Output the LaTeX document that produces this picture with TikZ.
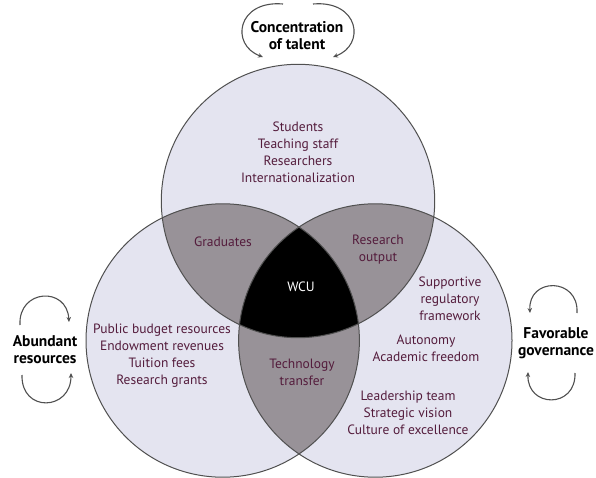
\documentclass[tikz,border=0pt]{standalone}
\usepackage{fontspec}
\setmainfont{PT Sans}
\usetikzlibrary{arrows.meta}
\definecolor{ring}{RGB}{228,228,240}
\definecolor{lens}{RGB}{152,146,152}
\definecolor{ink}{RGB}{84,28,60}
\definecolor{edge}{RGB}{80,80,80}
\begin{document}
\begin{tikzpicture}[x=1pt, y=-1pt, font=\fontsize{13.5}{17}\selectfont,
  item/.style={align=center, text=ink, inner sep=0pt},
  factor/.style={align=center, inner sep=0pt, font=\fontsize{15.5}{17}\selectfont\bfseries},
  loop arrow/.style={draw=edge, line width=1.1pt, -{Stealth[length=5pt, width=4.5pt]}}]
  \useasboundingbox (0,0) rectangle (596,478);
  \coordinate (T) at (298,201);
  \coordinate (L) at (222.7,340.5);
  \coordinate (R) at (375.3,340.5);
  \foreach \c in {T, L, R} \fill[ring] (\c) circle (136.7pt);
  \foreach \a/\b in {T/L, T/R, L/R} {
    \begin{scope}
      \clip (\a) circle (136.7pt);
      \fill[lens] (\b) circle (136.7pt);
    \end{scope}
  }
  \begin{scope}
    \clip (T) circle (136.7pt);
    \clip (L) circle (136.7pt);
    \fill (R) circle (136.7pt);
  \end{scope}
  \foreach \c in {T, L, R} \draw[edge, line width=1pt] (\c) circle (136.7pt);

  \node[item] (talent) at (298,152) {Students\\Teaching staff\\Researchers\\Internationalization};
  \node[item] (grad) at (223,242) {Graduates};
  \node[item] (output) at (378,250) {Research\\output};
  \node[text=white] (wcu) at (301,287) {WCU};
  \node[item] (tech) at (302,372) {Technology\\transfer};
  \node[item] (money) at (162,356) {Public budget resources\\Endowment revenues\\Tuition fees\\Research grants};
  \node[item] (rules) at (450,299) {Supportive\\regulatory\\framework};
  \node[item] (auto) at (426,348) {Autonomy\\Academic freedom};
  \node[item] (lead) at (408,413) {Leadership team\\Strategic vision\\Culture of excellence};

  \node[factor] (conc) at (297,36) {Concentration\\of talent};
  \node[factor] (abund) at (45,350) {Abundant\\resources};
  \node[factor] (favor) at (556,343) {Favorable\\governance};

  \draw[loop arrow] ([shift={(-14,-32)}]conc.center) .. controls +(-46,-4) and +(-33,-12) .. ([shift={(-34,21)}]conc.center);
  \draw[loop arrow] ([shift={(16,-32)}]conc.center) .. controls +(46,-4) and +(33,-12) .. ([shift={(36,21)}]conc.center);
  \draw[loop arrow] ([shift={(-25,-25)}]abund.center) .. controls +(-2,-36) and +(-2,-36) .. ([shift={(24,-28)}]abund.center);
  \draw[loop arrow] ([shift={(-23,25)}]abund.center) .. controls +(-1,38) and +(0,38) .. ([shift={(26,23)}]abund.center);
  \draw[loop arrow] ([shift={(21,-30)}]favor.center) .. controls +(2,-36) and +(-2,-36) .. ([shift={(-26,-30)}]favor.center);
  \draw[loop arrow] ([shift={(19,30)}]favor.center) .. controls +(1,36) and +(-1,36) .. ([shift={(-28,29)}]favor.center);
\end{tikzpicture}
\end{document}
